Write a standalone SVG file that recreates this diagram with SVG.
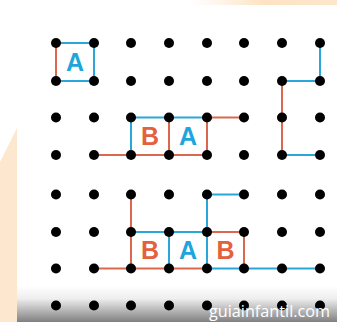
<svg xmlns="http://www.w3.org/2000/svg" width="337" height="322" viewBox="0 0 337 322">
<defs>
<style>
.b{stroke:#2aa7d8;stroke-width:2;fill:none;stroke-linecap:round}
.o{stroke:#d9684e;stroke-width:2;fill:none;stroke-linecap:round}
.d{fill:#000}
.L{font-family:"Liberation Sans",Arial,sans-serif;font-weight:bold;font-size:25px;text-anchor:middle}
.la{fill:#1ea6dc}
.lb{fill:#e3613f}
</style>
<linearGradient id="shade" x1="0" y1="0" x2="0" y2="1">
<stop offset="0" stop-color="#ffffff"/>
<stop offset="0.35" stop-color="#eeeeee"/>
<stop offset="1" stop-color="#808080"/>
</linearGradient>
<linearGradient id="topPeach" x1="0" y1="0" x2="1" y2="0">
<stop offset="0" stop-color="#fde8cf" stop-opacity="0"/>
<stop offset="0.5" stop-color="#fde3c3"/>
<stop offset="1" stop-color="#fde6cc"/>
</linearGradient>
</defs>
<g id="background">
<rect x="0" y="0" width="337" height="322" fill="#ffffff"/>
<rect x="190" y="0" width="147" height="5" fill="url(#topPeach)"/>
<polygon points="0,162 17,128 17,322 0,322" fill="#fde8cf"/>
<rect x="17" y="286" width="320" height="36" fill="url(#shade)"/>
</g>
<g id="connectors">
<path class="b" d="M56,43 H94 V81 H56"/>
<path class="o" d="M56,43 V81"/>
<path class="b" d="M131,155 V117.5 H207"/>
<path class="o" d="M94,155 H207 V117.5 H244"/>
<path class="o" d="M169,117.5 V155"/>
<path class="b" d="M320,43 V81 H282"/>
<path class="o" d="M282,81 V155"/>
<path class="b" d="M282,155 H320"/>
<path class="o" d="M131,194.5 V268.5"/>
<path class="o" d="M94,268.5 H207"/>
<path class="b" d="M131,232 H207"/>
<path class="b" d="M169,232 V268.5"/>
<path class="b" d="M244,194.5 H207 V268.5"/>
<path class="o" d="M207,232 H244 V268.5"/>
<path class="b" d="M207,268.5 H320"/>
</g>
<g id="dots" class="d">
<g id="row1"><circle cx="56" cy="43" r="5"/><circle cx="94" cy="43" r="5"/><circle cx="131" cy="43" r="5"/><circle cx="169" cy="43" r="5"/><circle cx="207" cy="43" r="5"/><circle cx="244" cy="43" r="5"/><circle cx="282" cy="43" r="5"/><circle cx="320" cy="43" r="5"/></g>
<g id="row2"><circle cx="56" cy="81" r="5"/><circle cx="94" cy="81" r="5"/><circle cx="131" cy="81" r="5"/><circle cx="169" cy="81" r="5"/><circle cx="207" cy="81" r="5"/><circle cx="244" cy="81" r="5"/><circle cx="282" cy="81" r="5"/><circle cx="320" cy="81" r="5"/></g>
<g id="row3"><circle cx="56" cy="117.5" r="5"/><circle cx="94" cy="117.5" r="5"/><circle cx="131" cy="117.5" r="5"/><circle cx="169" cy="117.5" r="5"/><circle cx="207" cy="117.5" r="5"/><circle cx="244" cy="117.5" r="5"/><circle cx="282" cy="117.5" r="5"/><circle cx="320" cy="117.5" r="5"/></g>
<g id="row4"><circle cx="56" cy="155" r="5"/><circle cx="94" cy="155" r="5"/><circle cx="131" cy="155" r="5"/><circle cx="169" cy="155" r="5"/><circle cx="207" cy="155" r="5"/><circle cx="244" cy="155" r="5"/><circle cx="282" cy="155" r="5"/><circle cx="320" cy="155" r="5"/></g>
<g id="row5"><circle cx="56" cy="194.5" r="5"/><circle cx="94" cy="194.5" r="5"/><circle cx="131" cy="194.5" r="5"/><circle cx="169" cy="194.5" r="5"/><circle cx="207" cy="194.5" r="5"/><circle cx="244" cy="194.5" r="5"/><circle cx="282" cy="194.5" r="5"/><circle cx="320" cy="194.5" r="5"/></g>
<g id="row6"><circle cx="56" cy="232" r="5"/><circle cx="94" cy="232" r="5"/><circle cx="131" cy="232" r="5"/><circle cx="169" cy="232" r="5"/><circle cx="207" cy="232" r="5"/><circle cx="244" cy="232" r="5"/><circle cx="282" cy="232" r="5"/><circle cx="320" cy="232" r="5"/></g>
<g id="row7"><circle cx="56" cy="268.5" r="5"/><circle cx="94" cy="268.5" r="5"/><circle cx="131" cy="268.5" r="5"/><circle cx="169" cy="268.5" r="5"/><circle cx="207" cy="268.5" r="5"/><circle cx="244" cy="268.5" r="5"/><circle cx="282" cy="268.5" r="5"/><circle cx="320" cy="268.5" r="5"/></g>
<g id="row8"><circle cx="56" cy="305.5" r="5"/><circle cx="94" cy="305.5" r="5"/><circle cx="131" cy="305.5" r="5"/><circle cx="169" cy="305.5" r="5"/><circle cx="207" cy="305.5" r="5"/><circle cx="244" cy="305.5" r="5"/><circle cx="282" cy="305.5" r="5"/><circle cx="320" cy="305.5" r="5"/></g>
</g>
<g id="labels" class="L">
<text class="la" x="75" y="71">A</text>
<text class="lb" x="150" y="145">B</text>
<text class="la" x="188" y="145">A</text>
<text class="lb" x="150" y="259">B</text>
<text class="la" x="188" y="259">A</text>
<text class="lb" x="225.5" y="259">B</text>
</g>
<g id="watermark">
<text x="209" y="317" font-family="'Open Sans','DejaVu Sans',sans-serif" font-size="16" fill="#ffffff" textLength="121" lengthAdjust="spacingAndGlyphs">guiainfantil.com</text>
</g>
</svg>
